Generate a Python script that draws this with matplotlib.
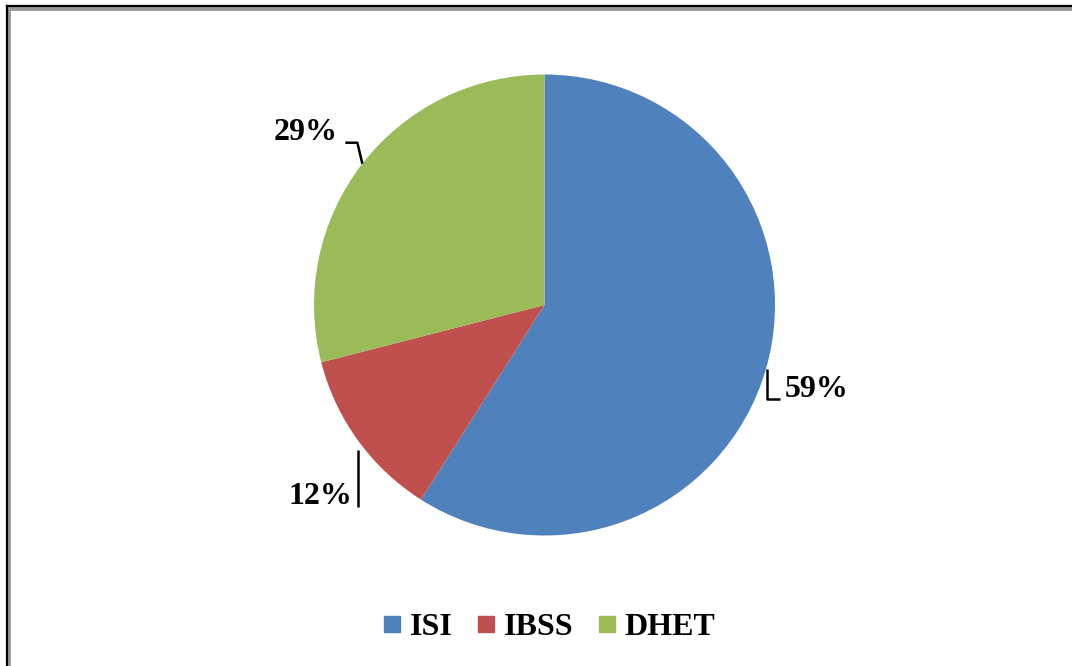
import numpy as np
import matplotlib.pyplot as plt
from matplotlib.lines import Line2D

categories = ["ISI", "IBSS", "DHET"]
shares = [59, 12, 29]
colors = ["#4F81BD", "#C0504D", "#9BBB59"]

plt.rcParams["font.family"] = ["Liberation Serif", "DejaVu Serif"]
plt.rcParams["font.weight"] = "bold"

W, H = 1072, 666
fig = plt.figure(figsize=(W / 100, H / 100), dpi=100)
ax = fig.add_axes([0, 0, 1, 1])

cx, cy, r = 544.5, H - 305, 230.5
wedges, _ = ax.pie(shares, colors=colors, startangle=90, counterclock=False,
                   center=(cx, cy), radius=r, frame=True,
                   wedgeprops=dict(linewidth=0))
ax.set_xlim(0, W)
ax.set_ylim(0, H)
ax.set_aspect("equal")
ax.axis("off")

# leader lines + labels (offsets relative to the wedge's edge point)
fs = 23
for w, v in zip(wedges, shares):
    ang = np.deg2rad((w.theta1 + w.theta2) / 2)
    ex, ey = cx + r * np.cos(ang), cy + r * np.sin(ang)
    lbl = f"{v}%"
    if np.cos(ang) > 0:
        xs = [ex + 1, ex + 1, ex + 14]
        ys = [ey, ey - 30, ey - 30]
        ax.plot(xs, ys, color="black", lw=1.8, solid_capstyle="butt")
        ax.text(ex + 19, ey - 20, lbl, ha="left", va="center", fontsize=fs, fontweight="bold")
    elif np.sin(ang) < 0:
        xs = [ex, ex]
        ys = [ey - 10, ey - 67]
        ax.plot(xs, ys, color="black", lw=1.8, solid_capstyle="butt")
        ax.text(ex - 6, ey - 56, lbl, ha="right", va="center", fontsize=fs, fontweight="bold")
    else:
        xs = [ex, ex - 5, ex - 17]
        ys = [ey, ey + 21, ey + 21]
        ax.plot(xs, ys, color="black", lw=1.8, solid_capstyle="butt")
        ax.text(ex - 25, ey + 31, lbl, ha="right", va="center", fontsize=fs, fontweight="bold")

handles = [Line2D([], [], marker="s", linestyle="none", markersize=11.5,
                  markerfacecolor=c, markeredgecolor=c) for c in colors]
fig.legend(handles, categories, loc="center", bbox_to_anchor=(549.5 / W, 1 - 627 / H),
           ncol=3, frameon=False, prop=dict(size=fs, weight="bold"),
           handlelength=0.5, handletextpad=0.3, columnspacing=0.8,
           borderpad=0, borderaxespad=0)

# chart border (top and left visible)
fig.add_artist(Line2D([7.5 / W, 7.5 / W], [0, 1 - 6.5 / H], color="#999999", lw=3.5, transform=fig.transFigure))
fig.add_artist(Line2D([7.5 / W, 1], [1 - 7.5 / H, 1 - 7.5 / H], color="#999999", lw=3.5, transform=fig.transFigure))
fig.add_artist(Line2D([6.5 / W, 6.5 / W], [0, 1 - 5.5 / H], color="black", lw=1.6, transform=fig.transFigure))
fig.add_artist(Line2D([6.5 / W, 1], [1 - 6 / H, 1 - 6 / H], color="black", lw=1.6, transform=fig.transFigure))

fig.savefig("out.png", dpi=100, facecolor="white")
